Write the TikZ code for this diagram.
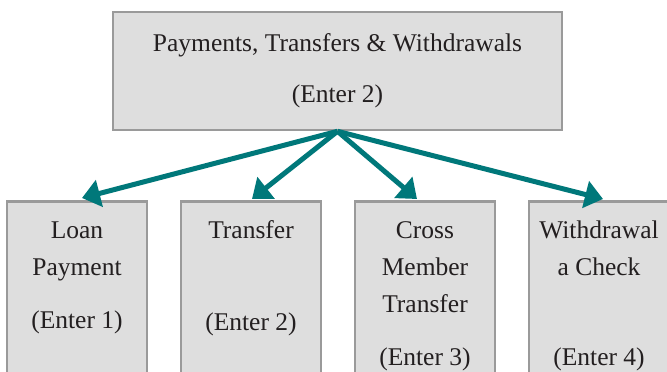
\documentclass[tikz,border=0pt]{standalone}
\usepackage{fontspec}
\setmainfont{Liberation Serif}
\usetikzlibrary{arrows.meta}
\definecolor{boxfill}{HTML}{DEDEDE}
\definecolor{boxline}{HTML}{9A9A9A}
\definecolor{teal}{HTML}{00787A}
\definecolor{ink}{HTML}{231F20}
\tikzset{
  box/.style={draw=boxline,fill=boxfill,line width=2.6pt,inner sep=0pt},
  txt/.style={anchor=base,inner sep=0pt,text=ink,font=\fontsize{25.5}{30}\selectfont},
  arr/.style={draw=teal,line width=5pt,-{Triangle[length=18pt,width=27pt]}},
}
\begin{document}
\begin{tikzpicture}[x=1pt,y=1pt]
\clip (0,0) rectangle (667,-372);
\fill[white] (0,0) rectangle (667,-372);
% boxes
\node[box,minimum width=449pt,minimum height=118pt] (top) at (337.5,-71) {};
\node[box,minimum width=140pt,minimum height=220pt,anchor=north] (b1) at (77,-200) {};
\node[box,minimum width=140pt,minimum height=220pt,anchor=north] (b2) at (251,-200) {};
\node[box,minimum width=140pt,minimum height=220pt,anchor=north] (b3) at (425,-200) {};
\node[box,minimum width=140pt,minimum height=220pt,anchor=north] (b4) at (599,-200) {};
% texts
\node[txt] (t0a) at (337.5,-51) {Payments, Transfers \& Withdrawals};
\node[txt] (t0b) at (337.5,-102) {(Enter 2)};
\node[txt] (t1a) at (77,-238) {Loan};
\node[txt] (t1b) at (77,-275) {Payment};
\node[txt] (t1c) at (77,-328) {(Enter 1)};
\node[txt] (t2a) at (251,-238) {Transfer};
\node[txt] (t2c) at (251,-330) {(Enter 2)};
\node[txt] (t3a) at (425,-238) {Cross};
\node[txt] (t3b) at (425,-275) {Member};
\node[txt] (t3c) at (425,-312) {Transfer};
\node[txt] (t3d) at (425,-365) {(Enter 3)};
\node[txt] (t4a) at (599,-238) {Withdrawal};
\node[txt] (t4b) at (599,-275) {a Check};
\node[txt] (t4d) at (599,-365) {(Enter 4)};
% arrow tips
\coordinate (p1) at (82,-198);
\coordinate (p2) at (252,-199);
\coordinate (p3) at (417,-199);
\coordinate (p4) at (603,-199);
\draw[arr] (top.south) -- (p1);
\draw[arr] (top.south) -- (p2);
\draw[arr] (top.south) -- (p3);
\draw[arr] (top.south) -- (p4);
\end{tikzpicture}
\end{document}
